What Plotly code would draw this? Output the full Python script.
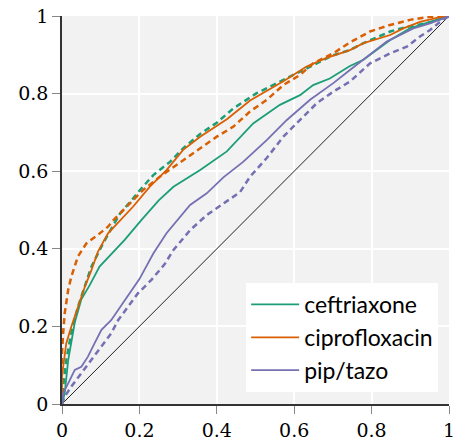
import plotly.graph_objects as go

# ROC curves: false positive rate (x) vs true positive rate (y)
drugs = ["ceftriaxone", "ciprofloxacin", "pip/tazo"]
colors = ["#1b9e77", "#d95f02", "#7570b3"]

# solid curves
ceftriaxone_fpr = [0, 0.007, 0.016, 0.033, 0.05, 0.072, 0.097, 0.127, 0.162, 0.205, 0.25, 0.288,
                   0.357, 0.426, 0.494, 0.563, 0.615, 0.649, 0.692, 0.744, 0.779, 0.848, 0.899, 0.951, 1]
ceftriaxone_tpr = [0, 0.028, 0.113, 0.21, 0.27, 0.307, 0.354, 0.385, 0.423, 0.474, 0.525, 0.56,
                   0.603, 0.651, 0.723, 0.771, 0.796, 0.822, 0.839, 0.871, 0.887, 0.938, 0.968, 0.985, 1]

ciprofloxacin_fpr = [0, 0.0, 0.003, 0.011, 0.024, 0.041, 0.059, 0.076, 0.093, 0.119, 0.15, 0.184,
                     0.227, 0.27, 0.313, 0.357, 0.426, 0.486, 0.572, 0.632, 0.684, 0.744, 0.779,
                     0.848, 0.882, 0.925, 0.977, 1]
ciprofloxacin_tpr = [0, 0.07, 0.096, 0.156, 0.199, 0.25, 0.302, 0.345, 0.393, 0.44, 0.474, 0.509,
                     0.56, 0.603, 0.655, 0.689, 0.734, 0.782, 0.832, 0.87, 0.892, 0.912, 0.93,
                     0.951, 0.968, 0.985, 0.997, 1]

piptazo_fpr = [0, 0.003, 0.016, 0.033, 0.05, 0.067, 0.084, 0.102, 0.127, 0.162, 0.2, 0.236, 0.27,
               0.331, 0.374, 0.417, 0.468, 0.529, 0.581, 0.641, 0.701, 0.744, 0.779, 0.839,
               0.908, 0.951, 1]
piptazo_tpr = [0, 0.028, 0.053, 0.088, 0.096, 0.122, 0.156, 0.191, 0.216, 0.268, 0.322, 0.388, 0.44,
               0.513, 0.543, 0.584, 0.624, 0.68, 0.732, 0.784, 0.827, 0.861, 0.887, 0.934,
               0.968, 0.981, 1]

# dashed curves
ceftriaxone2_fpr = [0, 0.003, 0.011, 0.024, 0.041, 0.059, 0.076, 0.106, 0.124, 0.15, 0.184, 0.202,
                    0.236, 0.279, 0.313, 0.357, 0.4, 0.443, 0.503, 0.555, 0.624, 0.701, 0.744,
                    0.779, 0.848, 0.891, 0.951, 1]
ceftriaxone2_tpr = [0, 0.045, 0.113, 0.183, 0.25, 0.302, 0.354, 0.414, 0.444, 0.491, 0.53, 0.552,
                    0.59, 0.624, 0.659, 0.696, 0.725, 0.762, 0.801, 0.826, 0.861, 0.899, 0.912,
                    0.93, 0.96, 0.972, 0.983, 1]

ciprofloxacin2_fpr = [0, 0.0, 0.003, 0.007, 0.016, 0.024, 0.041, 0.063, 0.093, 0.119, 0.133, 0.167,
                      0.21, 0.253, 0.296, 0.357, 0.4, 0.443, 0.486, 0.529, 0.572, 0.615, 0.649,
                      0.701, 0.744, 0.796, 0.848, 0.899, 0.951, 1]
ciprofloxacin2_tpr = [0, 0.13, 0.183, 0.234, 0.294, 0.328, 0.38, 0.414, 0.436, 0.457, 0.474, 0.509,
                      0.552, 0.586, 0.616, 0.659, 0.689, 0.715, 0.754, 0.784, 0.822, 0.848, 0.878,
                      0.904, 0.932, 0.96, 0.977, 0.99, 0.998, 1]

piptazo2_fpr = [0, 0.007, 0.024, 0.05, 0.076, 0.102, 0.127, 0.145, 0.171, 0.196, 0.231, 0.265,
                0.288, 0.331, 0.374, 0.417, 0.46, 0.486, 0.529, 0.572, 0.615, 0.658, 0.701,
                0.744, 0.796, 0.848, 0.891, 0.925, 0.951, 0.977, 1]
piptazo2_tpr = [0, 0.019, 0.045, 0.079, 0.113, 0.148, 0.182, 0.216, 0.25, 0.285, 0.32, 0.36,
                0.397, 0.448, 0.487, 0.517, 0.546, 0.586, 0.634, 0.689, 0.732, 0.775, 0.805,
                0.831, 0.878, 0.904, 0.921, 0.947, 0.964, 0.985, 1]

solid = [(ceftriaxone_fpr, ceftriaxone_tpr), (ciprofloxacin_fpr, ciprofloxacin_tpr),
         (piptazo_fpr, piptazo_tpr)]
dashed = [(ceftriaxone2_fpr, ceftriaxone2_tpr), (ciprofloxacin2_fpr, ciprofloxacin2_tpr),
          (piptazo2_fpr, piptazo2_tpr)]

tick_vals = [0, 0.2, 0.4, 0.6, 0.8, 1]
tick_text = ["0", "0.2", "0.4", "0.6", "0.8", "1"]

SERIF = "DejaVu Serif"

fig = go.Figure()

# chance diagonal
fig.add_trace(go.Scatter(x=[0, 1], y=[0, 1], mode="lines",
                         line=dict(color="#222222", width=1), showlegend=False,
                         hoverinfo="skip"))

for name, color, (fx, fy) in zip(drugs, colors, dashed):
    fig.add_trace(go.Scatter(x=fx, y=fy, mode="lines", legendgroup=name, showlegend=False,
                             line=dict(color=color, width=2.5, dash="6px,4px")))

for name, color, (fx, fy) in zip(drugs, colors, solid):
    fig.add_trace(go.Scatter(x=fx, y=fy, mode="lines", name=name, legendgroup=name,
                             line=dict(color=color, width=1.8)))

axis_common = dict(
    range=[0, 1], tickmode="array", tickvals=tick_vals, ticktext=tick_text,
    showgrid=True, gridcolor="white", gridwidth=1.5,
    zeroline=False, showline=True, linecolor="#333333", linewidth=1.5,
    ticks="outside", ticklen=8, tickcolor="#888888", tickwidth=1.2,
    ticklabeloverflow="allow", automargin=False,
    tickfont=dict(family=SERIF, size=19, color="black"),
)

fig.update_xaxes(**axis_common)
fig.update_yaxes(**axis_common)

fig.update_layout(
    width=454, height=441,
    margin=dict(l=62, r=5, t=16, b=37),
    font=dict(family=SERIF, size=19, color="black"),
    plot_bgcolor="#f2f2f2", paper_bgcolor="white",
    legend=dict(x=0.972, y=0.031, xanchor="right", yanchor="bottom",
                bgcolor="white", borderwidth=0, itemwidth=48,
                font=dict(family="Lato", size=23, color="black"),
                traceorder="grouped", tracegroupgap=0),
)

fig.write_html("out.html")
